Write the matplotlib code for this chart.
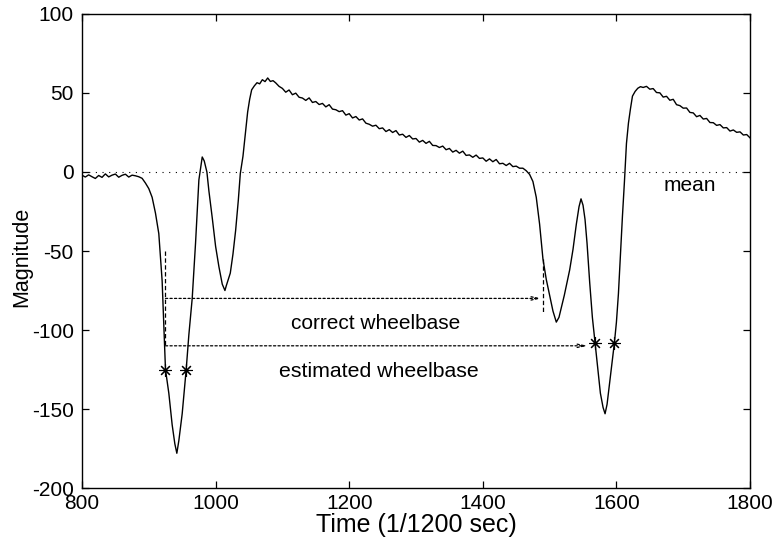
import matplotlib
matplotlib.use("Agg")
import matplotlib.pyplot as plt
import numpy as np

plt.rcParams["font.family"] = ["Liberation Sans", "DejaVu Sans"]
plt.rcParams["axes.unicode_minus"] = False

# Measured axle signal (time in 1/1200 s, magnitude in sensor units)
time = [
    800, 805, 810, 815, 820, 825, 830, 835, 840, 845, 850, 855, 860, 865, 870,
    875, 880, 885, 890, 895, 900, 905, 910, 915, 920, 925, 930, 935, 939, 942,
    945, 950, 956, 960, 965, 970, 975, 980, 983, 987, 990, 995, 1000, 1005,
    1010, 1014, 1016, 1022, 1026, 1030, 1034, 1037, 1041, 1044, 1048, 1051,
    1054, 1058, 1062, 1066, 1070, 1074, 1078, 1082, 1086,
    1090, 1095, 1100, 1105, 1110, 1115, 1120, 1125, 1130, 1135, 1140, 1145,
    1150, 1155, 1160, 1165, 1170, 1175, 1180, 1185, 1190, 1195, 1200, 1205,
    1210, 1215, 1220, 1225, 1230, 1235, 1240, 1245, 1250, 1255, 1260, 1265,
    1270, 1275, 1280, 1285, 1290, 1295, 1300, 1305, 1310, 1315, 1320, 1325,
    1330, 1335, 1340, 1345, 1350, 1355, 1360, 1365, 1370, 1375, 1380, 1385,
    1390, 1395, 1400, 1405, 1410, 1415, 1420, 1425, 1430, 1435, 1440, 1445,
    1450, 1455, 1460, 1465, 1470, 1475, 1480, 1485, 1490, 1495, 1500, 1505,
    1510, 1514, 1518, 1522, 1526, 1530, 1535, 1540, 1544, 1547, 1550, 1553,
    1556, 1560, 1564, 1568, 1572, 1576, 1580, 1583, 1586, 1590, 1594, 1597,
    1600, 1603, 1606, 1609, 1612, 1615, 1618, 1621, 1624, 1628, 1632, 1636,
    1640, 1645, 1650, 1655, 1660, 1665, 1670, 1675, 1680, 1685, 1690, 1695,
    1700, 1705, 1710, 1715, 1720, 1725, 1730, 1735, 1740, 1745, 1750, 1755,
    1760, 1765, 1770, 1775, 1780, 1785, 1790, 1795, 1800,
]
magnitude = [
    -2.0, -3.2, -1.8, -3.0, -4.1, -2.2, -3.4, -1.2, -3.1, -2.0, -1.3, -3.3,
    -2.1, -1.4, -3.2, -2.0, -2.4, -3.0, -4.0, -7.0, -10.5, -16.0, -26.0, -39.0,
    -69.0, -125.0, -140.0, -160.0, -172.0, -178.0, -170.0, -153.0, -125.0,
    -103.0, -80.0, -45.0, -5.0, 9.5, 7.0, 0.0, -12.0, -29.0, -47.0, -60.0,
    -71.0, -75.0, -72.0, -64.0, -52.0, -37.0, -18.0, -1.0, 10.0, 22.0, 38.0,
    46.0, 52.0, 54.5, 56.5, 55.8, 58.4, 57.2, 59.5, 57.3, 57.8,
    56.4, 54.2, 52.9, 50.5, 51.9, 48.9, 49.9, 47.3, 46.8, 45.3, 46.9, 44.0,
    44.6, 42.7, 43.4, 41.2, 42.6, 39.8, 39.4, 38.2, 38.8, 36.0, 36.9, 34.2,
    35.1, 32.9, 33.6, 30.9, 30.2, 29.0, 29.6, 27.4, 27.9, 25.6, 26.8, 25.0,
    26.2, 23.4, 23.9, 21.9, 23.1, 20.9, 21.2, 18.9, 20.0, 18.1, 19.4, 16.8,
    16.7, 15.5, 16.4, 14.1, 14.9, 12.6, 13.7, 11.9, 13.2, 10.5, 10.8, 9.3,
    10.7, 8.6, 8.9, 6.8, 8.3, 6.5, 7.9, 5.2, 5.5, 4.1, 5.5, 3.4,
    3.7, 2.4, 2.4, 0.8, -1.5, -6.0, -16.0, -33.0, -55.0, -68.0, -78.0, -88.0,
    -95.0, -92.0, -85.0, -78.0, -70.0, -62.0, -49.0, -33.0, -22.0, -17.0,
    -21.0, -30.0, -45.0, -70.0, -92.0, -108.0, -124.0, -140.0, -149.0, -153.0,
    -147.0, -133.0, -119.0, -108.0, -95.0, -77.0, -52.0, -28.0, -6.0, 18.0,
    31.0, 40.0, 48.0, 51.0, 53.0, 54.0,
    53.5, 54.2, 52.4, 52.8, 50.3, 50.1, 47.4, 47.9, 45.4, 46.0, 42.6, 42.0,
    40.4, 40.5, 37.7, 37.4, 35.0, 35.8, 33.5, 33.9, 31.3, 31.2, 29.5, 30.0,
    27.9, 28.1, 25.9, 26.6, 25.1, 25.4, 23.4, 23.7, 21.6,
]

# Detected axle crossings (estimated) and annotation levels
star_time = [925, 956, 1568, 1597]
star_mag = [-125, -125, -108, -108]
correct_start, correct_end, correct_level = 925, 1488, -80
estimated_start, estimated_end, estimated_level = 925, 1557, -110
marker1_time, marker1_span = 925, (-50, -110)
marker2_time, marker2_span = 1490, (-55, -90)

xticks = [800, 1000, 1200, 1400, 1600, 1800]
yticks = [-200, -150, -100, -50, 0, 50, 100]

fig = plt.figure(figsize=(7.77, 5.44), dpi=100)
ax = fig.add_axes([0.1055, 0.1029, 0.8598, 0.8714])

ax.plot(time, magnitude, color="black", lw=1.0)

# zero-mean reference
ax.axhline(0, color="black", lw=0.8, linestyle=(0, (1, 5)))

# vertical markers
ax.plot([marker1_time, marker1_time], marker1_span, color="black", lw=0.9,
        linestyle=(0, (3.5, 2)))
ax.plot([marker2_time, marker2_time], marker2_span, color="black", lw=0.9,
        linestyle=(0, (3.5, 2)))

# wheelbase arrows
arrow_style = dict(arrowstyle="->,head_length=0.55,head_width=0.12",
                   color="black", lw=0.9, linestyle=(0, (1.8, 1.8)),
                   shrinkA=0, shrinkB=0)
ax.annotate("", xy=(correct_end, correct_level),
            xytext=(correct_start, correct_level), arrowprops=arrow_style)
ax.annotate("", xy=(estimated_end, estimated_level),
            xytext=(estimated_start, estimated_level), arrowprops=arrow_style)

ax.plot(star_time, star_mag, linestyle="none", marker=(8, 2, 0),
        markersize=9, color="black", markeredgewidth=0.8)

ax.text(1240, -96, "correct wheelbase", fontsize=15, ha="center", va="center")
ax.text(1245, -126, "estimated wheelbase", fontsize=15.3, ha="center", va="center")
ax.text(1710, -8.5, "mean", fontsize=15, ha="center", va="center")

ax.set_xlim(800, 1800)
ax.set_ylim(-200, 100)
ax.set_xticks(xticks)
ax.set_yticks(yticks)
ax.tick_params(direction="in", length=5, width=0.9, labelsize=15,
               top=True, right=True)
ax.tick_params(axis="x", pad=4)
ax.tick_params(axis="y", pad=6)
for s in ax.spines.values():
    s.set_linewidth(1.0)

ax.set_xlabel("Time (1/1200 sec)", fontsize=18, labelpad=0)
ax.set_ylabel("Magnitude", fontsize=15.5)
ax.yaxis.set_label_coords(-0.074, 0.487)

fig.savefig("out.png", dpi=100)
